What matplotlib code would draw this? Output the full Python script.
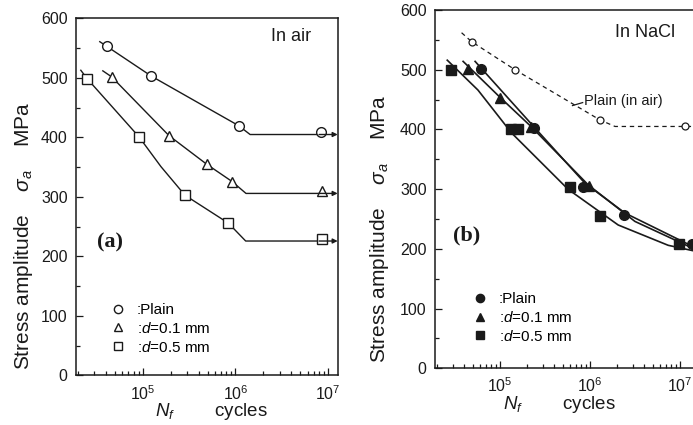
import numpy as np
import matplotlib.pyplot as plt

plt.rcParams['font.family'] = ['Liberation Sans', 'DejaVu Sans']
plt.rcParams['mathtext.fontset'] = 'custom'
plt.rcParams['mathtext.rm'] = 'Liberation Sans'
plt.rcParams['mathtext.it'] = 'Liberation Sans:italic'
plt.rcParams['mathtext.bf'] = 'Liberation Sans:bold'

INK = '#1a1a1a'

# ---- (a) in air: test points (cycles, MPa) ----
a_plain_n = [4.1e4, 1.24e5, 1.08e6, 8.3e6]
a_plain_s = [553, 503, 420, 409]
a_d01_n = [4.6e4, 1.92e5, 4.9e5, 9.2e5, 8.5e6]
a_d01_s = [502, 403, 355, 326, 310]
a_d05_n = [2.5e4, 9.1e4, 2.85e5, 8.4e5, 8.5e6]
a_d05_s = [499, 401, 303, 256, 230]

# fitted S-N curves as drawn in the figure
a_plain_curve_n = [3.43e4, 4.1e4, 1.24e5, 3.8e5, 1.08e6, 1.44e6, 8.3e6]
a_plain_curve_s = [561, 553, 503, 460, 420, 405, 405]
a_d01_curve_n = [3.7e4, 4.6e4, 1.92e5, 4.9e5, 9.2e5, 1.3e6, 8.3e6]
a_d01_curve_s = [512, 502, 403, 355, 326, 306, 306]
a_d05_curve_n = [2.14e4, 2.5e4, 9.1e4, 1.57e5, 2.85e5, 8.4e5, 1.29e6, 8.3e6]
a_d05_curve_s = [513, 499, 401, 351, 303, 256, 226, 226]
a_runout_s = [405, 306, 226]

# ---- (b) in NaCl ----
b_plain_n = [6.1e4, 2.4e5, 8.4e5, 2.4e6, 1.35e7]
b_plain_s = [502, 402, 304, 257, 208]
b_d01_n = [4.45e4, 1.0e5, 2.21e5, 9.75e5]
b_d01_s = [502, 452, 404, 305]
b_d05_n = [2.86e4, 1.32e5, 1.6e5, 6.0e5, 1.29e6, 9.8e6]
b_d05_s = [500, 400, 400, 303, 255, 208]
b_air_n = [4.85e4, 1.47e5, 1.29e6, 1.14e7]
b_air_s = [547, 500, 416, 406]

b_air_curve_n = [3.75e4, 4.85e4, 1.47e5, 1.29e6, 1.9e6, 1.14e7, 2e7]
b_air_curve_s = [562, 547, 500, 416, 405, 405, 405]
b_plain_curve_n = [5.3e4, 2.4e5, 8.8e5, 2.45e6, 1.39e7]
b_plain_curve_s = [514, 404, 310, 260, 204]
b_d01_curve_n = [3.9e4, 1.0e5, 2.25e5, 9.6e5, 3.16e6, 1.39e7]
b_d01_curve_s = [514, 454, 404, 307, 246, 201]
b_d05_curve_n = [2.6e4, 5.7e4, 1.35e5, 5.7e5, 2.06e6, 7.4e6, 1.39e7]
b_d05_curve_s = [516, 466, 394, 300, 240, 206, 197]

fig = plt.figure(figsize=(6.93, 4.25), dpi=100)
axa = fig.add_axes([0.1097, 0.1165, 0.378, 0.840])
axb = fig.add_axes([0.6277, 0.1334, 0.3824, 0.843])


def style_axes(ax, xmax, xlab_x, ylab_x):
    ax.set_xscale('log')
    ax.set_xlim(1.9e4, xmax)
    ax.set_ylim(0, 600)
    ax.set_yticks([0, 100, 200, 300, 400, 500, 600])
    ax.set_yticks(np.arange(50, 600, 100), minor=True)
    ax.set_xticks([1e5, 1e6, 1e7])
    ax.set_xticklabels([r'$10^5$', r'$10^6$', r'$10^7$'])
    ax.tick_params(which='both', direction='in', top=False, right=False,
                   colors=INK, labelsize=11.5, width=0.9)
    ax.tick_params(which='major', length=5)
    ax.tick_params(which='minor', length=3)
    ax.tick_params(axis='x', pad=6)
    ax.tick_params(axis='y', pad=6)
    for sp in ax.spines.values():
        sp.set_color(INK)
        sp.set_linewidth(1.1)
    ax.set_xlabel(r'$N_f$        cycles', fontsize=13.5, color=INK)
    ax.set_ylabel(r'Stress amplitude    $\sigma_a$    MPa', fontsize=15,
                  color=INK)
    ax.xaxis.set_label_coords(xlab_x, -0.072)
    ax.yaxis.set_label_coords(ylab_x, 0.39)


style_axes(axa, 1.28e7, 0.515, -0.155)
style_axes(axb, 1.67e7, 0.47, -0.165)

# ---- panel (a) ----
lw = 1.0
axa.plot(a_plain_curve_n, a_plain_curve_s, color=INK, lw=lw)
axa.plot(a_d01_curve_n, a_d01_curve_s, color=INK, lw=lw)
axa.plot(a_d05_curve_n, a_d05_curve_s, color=INK, lw=lw)
for s in a_runout_s:
    axa.annotate('', xy=(1.27e7, s), xytext=(8.0e6, s),
                 arrowprops=dict(arrowstyle='-|>', color=INK, lw=lw,
                                 mutation_scale=7, shrinkA=0, shrinkB=0))
mk = dict(mfc='white', mec=INK, mew=1.0, ls='none', ms=7)
axa.plot(a_plain_n, a_plain_s, marker='o', label=':Plain', **mk)
axa.plot(a_d01_n, a_d01_s, marker='^', label=r':$d$=0.1 mm', **mk)
axa.plot(a_d05_n, a_d05_s, marker='s', label=r':$d$=0.5 mm', **mk)
axa.text(4.0e6, 569, 'In air', fontsize=13, color=INK, ha='center', va='center')
axa.text(4.4e4, 223, '(a)', fontsize=16, fontweight='bold', color=INK,
         family='Liberation Serif', ha='center', va='center')
axa.legend(loc='lower left', bbox_to_anchor=(0.08, 0.02), frameon=False,
           fontsize=11, handlelength=1.0, handletextpad=0.7,
           labelspacing=0.25, markerscale=0.85)

# ---- panel (b) ----
axb.plot(b_air_curve_n, b_air_curve_s, color=INK, lw=0.9, ls=(0, (3.5, 3)))
axb.plot(b_air_n, b_air_s, marker='o', mfc='white', mec=INK, mew=0.9,
         ls='none', ms=5)
axb.plot([6.4e5, 8.3e5], [440, 445], color=INK, lw=0.9)
axb.text(8.6e5, 447, 'Plain (in air)', fontsize=10.5, color=INK,
         ha='left', va='center')
axb.plot(b_plain_curve_n, b_plain_curve_s, color=INK, lw=1.2)
axb.plot(b_d01_curve_n, b_d01_curve_s, color=INK, lw=1.2)
axb.plot(b_d05_curve_n, b_d05_curve_s, color=INK, lw=1.2)
fk = dict(mfc=INK, mec=INK, ls='none', ms=7)
axb.plot(b_plain_n, b_plain_s, marker='o', label=':Plain', **fk)
axb.plot(b_d01_n, b_d01_s, marker='^', label=r':$d$=0.1 mm', **fk)
axb.plot(b_d05_n, b_d05_s, marker='s', label=r':$d$=0.5 mm', **fk)
axb.text(4.1e6, 562, 'In NaCl', fontsize=13, color=INK, ha='center', va='center')
axb.text(4.26e4, 223, '(b)', fontsize=16, fontweight='bold', color=INK,
         family='Liberation Serif', ha='center', va='center')
axb.legend(loc='lower left', bbox_to_anchor=(0.09, 0.03), frameon=False,
           fontsize=11, handlelength=1.0, handletextpad=0.7,
           labelspacing=0.25, markerscale=0.85)

fig.savefig('out.png', dpi=100)
